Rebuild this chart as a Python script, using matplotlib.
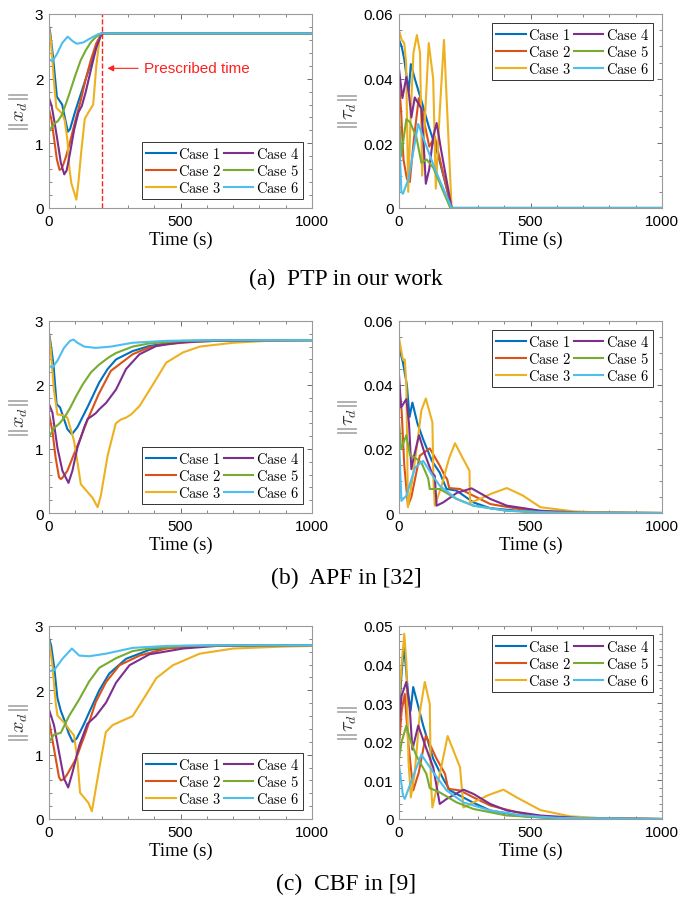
import matplotlib
matplotlib.use("Agg")
import matplotlib.pyplot as plt
from matplotlib.ticker import AutoMinorLocator

plt.rcParams["font.family"] = ["Liberation Sans", "DejaVu Sans"]
plt.rcParams["mathtext.fontset"] = "cm"

# ---------------------------------------------------------------- data
cases = ["Case 1", "Case 2", "Case 3", "Case 4", "Case 5", "Case 6"]
colors = ["#0072BD", "#D95319", "#EDB120", "#7E2F8E", "#77AC30", "#4DBEEE"]

# (a) PTP, ||x_d||
ptp_x_t = [
    [0, 5, 15, 30, 40, 50, 60, 72, 80, 100, 120, 140, 160, 180, 200, 1000],
    [0, 10, 20, 30, 40, 47, 55, 65, 80, 100, 120, 140, 160, 180, 200, 1000],
    [0, 8, 18, 28, 40, 50, 60, 70, 78, 85, 95, 104, 112, 122, 136, 150, 168, 180, 193, 200, 1000],
    [0, 10, 20, 30, 45, 58, 67, 80, 95, 112, 125, 140, 160, 180, 200, 1000],
    [0, 10, 20, 35, 50, 65, 80, 100, 120, 140, 160, 180, 200, 1000],
    [0, 13, 30, 50, 71, 90, 106, 130, 160, 188, 200, 1000],
]
ptp_x_v = [
    [2.81, 2.70, 2.35, 1.72, 1.66, 1.60, 1.40, 1.18, 1.22, 1.50, 1.75, 2.00, 2.25, 2.50, 2.70, 2.70],
    [1.53, 1.35, 1.05, 0.75, 0.59, 0.60, 0.68, 0.80, 1.02, 1.35, 1.65, 2.00, 2.30, 2.55, 2.70, 2.70],
    [2.79, 2.55, 2.00, 1.55, 1.50, 1.46, 1.35, 1.05, 0.60, 0.38, 0.25, 0.13, 0.40, 0.85, 1.38, 1.48, 1.60, 2.20, 2.65, 2.70, 2.70],
    [1.70, 1.58, 1.35, 1.10, 0.70, 0.52, 0.58, 0.85, 1.20, 1.48, 1.58, 1.80, 2.15, 2.48, 2.70, 2.70],
    [1.18, 1.25, 1.30, 1.35, 1.45, 1.62, 1.80, 2.05, 2.28, 2.44, 2.57, 2.65, 2.70, 2.70],
    [2.30, 2.27, 2.38, 2.55, 2.65, 2.58, 2.54, 2.56, 2.63, 2.69, 2.70, 2.70],
]

# (a) PTP, ||tau_d||
ptp_tau_t = [
    [0, 10, 20, 30, 37, 45, 60, 87, 112, 150, 200, 1000],
    [0, 8, 17, 30, 41, 55, 75, 89, 100, 115, 136, 150, 170, 200, 1000],
    [0, 10, 20, 27, 35, 45, 55, 68, 80, 88, 100, 113, 130, 140, 155, 171, 200, 1000],
    [0, 13, 28, 38, 47, 60, 85, 95, 102, 115, 130, 143, 160, 200, 1000],
    [0, 8, 28, 42, 66, 85, 105, 130, 195, 1000],
    [0, 9, 15, 36, 73, 100, 137, 200, 1000],
]
ptp_tau_v = [
    [0.052, 0.050, 0.046, 0.040, 0.036, 0.0445, 0.040, 0.0327, 0.0255, 0.016, 0.0, 0.0],
    [0.039, 0.030, 0.015, 0.009, 0.008, 0.020, 0.034, 0.030, 0.025, 0.019, 0.022, 0.017, 0.010, 0.0, 0.0],
    [0.055, 0.052, 0.051, 0.045, 0.005, 0.030, 0.048, 0.0535, 0.048, 0.010, 0.030, 0.051, 0.040, 0.006, 0.030, 0.052, 0.0, 0.0],
    [0.043, 0.034, 0.0405, 0.035, 0.028, 0.0342, 0.0307, 0.018, 0.0075, 0.012, 0.022, 0.0263, 0.018, 0.0, 0.0],
    [0.029, 0.016, 0.0275, 0.0265, 0.022, 0.014, 0.015, 0.0125, 0.0, 0.0],
    [0.024, 0.005, 0.0044, 0.009, 0.026, 0.020, 0.012, 0.0, 0.0],
]

# (b) APF, ||x_d||
apf_x_t = [
    [0, 6, 17, 29, 42, 51, 70, 87, 108, 146, 191, 223, 255, 318, 382, 446, 573, 700, 1000],
    [0, 13, 25, 38, 45, 51, 70, 95, 121, 146, 188, 235, 318, 382, 446, 573, 700, 1000],
    [0, 6, 19, 32, 51, 70, 95, 108, 121, 146, 165, 185, 197, 223, 254, 273, 293, 312, 344, 388, 446, 510, 573, 701, 828, 1000],
    [0, 13, 32, 51, 74, 89, 108, 134, 147, 165, 178, 191, 217, 255, 293, 344, 408, 510, 637, 1000],
    [0, 20, 40, 60, 80, 105, 130, 160, 191, 230, 255, 318, 382, 510, 700, 1000],
    [0, 13, 32, 57, 80, 93, 108, 134, 178, 235, 318, 446, 600, 1000],
]
apf_x_v = [
    [2.81, 2.66, 2.32, 1.70, 1.65, 1.54, 1.31, 1.23, 1.34, 1.65, 2.04, 2.25, 2.40, 2.53, 2.61, 2.65, 2.69, 2.70, 2.70],
    [1.54, 1.28, 0.87, 0.56, 0.53, 0.55, 0.66, 0.92, 1.18, 1.45, 1.85, 2.22, 2.48, 2.59, 2.64, 2.68, 2.70, 2.70],
    [2.80, 2.58, 1.91, 1.54, 1.53, 1.49, 1.13, 0.80, 0.45, 0.33, 0.24, 0.09, 0.27, 0.90, 1.40, 1.46, 1.49, 1.54, 1.67, 1.96, 2.35, 2.51, 2.60, 2.66, 2.69, 2.70],
    [1.70, 1.57, 1.02, 0.66, 0.47, 0.66, 1.02, 1.34, 1.47, 1.52, 1.56, 1.62, 1.72, 1.93, 2.25, 2.48, 2.61, 2.67, 2.69, 2.70],
    [1.19, 1.33, 1.40, 1.50, 1.64, 1.84, 2.02, 2.20, 2.32, 2.44, 2.50, 2.60, 2.65, 2.69, 2.70, 2.70],
    [2.30, 2.27, 2.38, 2.58, 2.69, 2.71, 2.66, 2.60, 2.58, 2.60, 2.66, 2.69, 2.70, 2.70],
]

# (b) APF, ||tau_d||
apf_tau_t = [
    [0, 15, 30, 40, 51, 70, 92, 125, 155, 181, 219, 283, 347, 474, 600, 1000],
    [0, 10, 20, 34, 47, 79, 117, 155, 175, 183, 191, 232, 283, 347, 474, 600, 1000],
    [0, 10, 15, 22, 28, 34, 50, 70, 85, 102, 127, 131, 136, 160, 190, 213, 240, 268, 270, 308, 350, 410, 470, 538, 665, 800, 1000],
    [0, 8, 28, 38, 47, 55, 76, 100, 125, 136, 143, 168, 220, 276, 347, 410, 538, 700, 1000],
    [0, 8, 28, 42, 60, 85, 111, 117, 155, 219, 283, 410, 600, 1000],
    [0, 9, 28, 61, 92, 125, 155, 219, 283, 410, 600, 1000],
]
apf_tau_v = [
    [0.052, 0.047, 0.040, 0.030, 0.0345, 0.028, 0.023, 0.0163, 0.0126, 0.0075, 0.007, 0.0033, 0.0015, 0.0005, 0.0001, 0.0],
    [0.039, 0.032, 0.015, 0.0023, 0.005, 0.0179, 0.0202, 0.0148, 0.0115, 0.0106, 0.0078, 0.0075, 0.0054, 0.0028, 0.001, 0.0002, 0.0],
    [0.0548, 0.050, 0.0479, 0.048, 0.040, 0.0018, 0.010, 0.022, 0.032, 0.0358, 0.0283, 0.010, 0.0023, 0.008, 0.017, 0.0218, 0.0175, 0.0132, 0.0033, 0.0044, 0.006, 0.0078, 0.0055, 0.0018, 0.0005, 0.0001, 0.0],
    [0.043, 0.033, 0.0356, 0.028, 0.0137, 0.017, 0.0243, 0.018, 0.0125, 0.0116, 0.0023, 0.0033, 0.0063, 0.0077, 0.0044, 0.0023, 0.0007, 0.0001, 0.0],
    [0.0288, 0.020, 0.0243, 0.018, 0.0173, 0.0158, 0.0108, 0.0075, 0.0075, 0.0044, 0.0023, 0.0007, 0.0001, 0.0],
    [0.0236, 0.0038, 0.0054, 0.0142, 0.0163, 0.012, 0.0085, 0.0044, 0.0023, 0.0007, 0.0001, 0.0],
]

# (c) CBF, ||x_d||
cbf_x_t = [
    [0, 8, 20, 32, 45, 60, 75, 90, 105, 130, 153, 191, 229, 293, 382, 510, 700, 1000],
    [0, 19, 38, 45, 57, 70, 102, 140, 178, 217, 268, 344, 446, 573, 700, 1000],
    [0, 13, 25, 32, 57, 83, 95, 108, 118, 134, 150, 163, 191, 216, 242, 280, 318, 369, 408, 471, 573, 701, 892, 1000],
    [0, 19, 38, 57, 73, 89, 115, 146, 178, 217, 255, 306, 382, 510, 637, 1000],
    [0, 19, 45, 76, 115, 153, 191, 255, 318, 382, 510, 700, 1000],
    [0, 19, 51, 87, 115, 153, 217, 318, 446, 600, 1000],
]
cbf_x_v = [
    [2.81, 2.70, 2.35, 1.88, 1.68, 1.52, 1.33, 1.20, 1.25, 1.45, 1.66, 2.00, 2.26, 2.49, 2.63, 2.68, 2.70, 2.70],
    [1.53, 1.09, 0.65, 0.60, 0.62, 0.70, 0.93, 1.35, 1.82, 2.13, 2.39, 2.54, 2.65, 2.69, 2.70, 2.70],
    [2.78, 2.39, 1.82, 1.61, 1.50, 1.36, 1.30, 0.93, 0.41, 0.33, 0.25, 0.12, 0.78, 1.35, 1.46, 1.53, 1.60, 1.93, 2.19, 2.39, 2.57, 2.65, 2.68, 2.69],
    [1.70, 1.46, 1.04, 0.63, 0.49, 0.72, 1.14, 1.48, 1.60, 1.81, 2.12, 2.39, 2.56, 2.65, 2.69, 2.70],
    [1.20, 1.31, 1.34, 1.60, 1.86, 2.14, 2.35, 2.50, 2.61, 2.65, 2.69, 2.70, 2.70],
    [2.30, 2.31, 2.49, 2.65, 2.54, 2.53, 2.57, 2.66, 2.69, 2.70, 2.70],
]

# (c) CBF, ||tau_d||
cbf_tau_t = [
    [0, 10, 19, 34, 44, 54, 70, 92, 130, 168, 194, 283, 347, 474, 600, 1000],
    [0, 10, 22, 35, 54, 75, 102, 143, 175, 187, 232, 283, 347, 474, 600, 1000],
    [0, 10, 20, 28, 36, 45, 60, 80, 98, 117, 121, 127, 150, 185, 232, 245, 283, 340, 397, 450, 538, 650, 800, 1000],
    [0, 10, 28, 41, 51, 73, 100, 130, 155, 181, 245, 283, 347, 410, 538, 700, 1000],
    [0, 10, 28, 45, 66, 104, 117, 155, 219, 283, 410, 600, 1000],
    [0, 15, 22, 41, 85, 130, 181, 245, 347, 474, 600, 1000],
]
cbf_tau_v = [
    [0.0273, 0.038, 0.045, 0.033, 0.028, 0.0342, 0.030, 0.0242, 0.0156, 0.0104, 0.0074, 0.0042, 0.0022, 0.0007, 0.0002, 0.0],
    [0.019, 0.028, 0.0324, 0.020, 0.0074, 0.012, 0.0216, 0.0156, 0.0117, 0.0078, 0.0074, 0.0056, 0.0035, 0.0013, 0.0003, 0.0],
    [0.0303, 0.040, 0.048, 0.0407, 0.015, 0.0056, 0.012, 0.028, 0.0355, 0.0298, 0.010, 0.003, 0.010, 0.0215, 0.0134, 0.003, 0.0043, 0.0062, 0.0076, 0.0055, 0.0023, 0.0007, 0.0001, 0.0],
    [0.0247, 0.032, 0.0355, 0.0285, 0.018, 0.0242, 0.019, 0.0134, 0.0039, 0.0052, 0.0076, 0.0065, 0.0039, 0.0022, 0.0009, 0.0002, 0.0],
    [0.0156, 0.020, 0.0242, 0.020, 0.0164, 0.0117, 0.008, 0.0069, 0.0043, 0.0026, 0.0009, 0.0002, 0.0],
    [0.014, 0.0061, 0.0052, 0.0087, 0.0167, 0.0121, 0.0074, 0.0043, 0.0022, 0.0009, 0.0003, 0.0],
]

captions = ["(a)  PTP in our work", "(b)  APF in [32]", "(c)  CBF in [9]"]
prescribed_time = 200

# ---------------------------------------------------------------- figure
W, H = 693, 903
fig = plt.figure(figsize=(W / 100, H / 100), dpi=100)


def px_rect(x0, x1, top, bottom):
    return [x0 / W, 1 - bottom / H, (x1 - x0) / W, (bottom - top) / H]


SERIF = ["Liberation Serif", "DejaVu Serif"]
FRAME = "#9a9a9a"


def panel(ax, ts, vs, ylim, yticks, ylabel, yminor, legend_loc):
    for t, v, c, lab in zip(ts, vs, colors, cases):
        ax.plot(t, v, color=c, lw=1.5, label=r"$\mathrm{%s}$" % lab.replace(" ", r"\ "))
    ax.set_xlim(0, 1000)
    ax.set_ylim(*ylim)
    ax.set_xticks([0, 500, 1000])
    ax.set_yticks(yticks)
    ax.xaxis.set_minor_locator(AutoMinorLocator(5))
    ax.yaxis.set_minor_locator(AutoMinorLocator(yminor))
    ax.tick_params(which="both", direction="in", top=True, right=True,
                   color="#555555", labelsize=11, pad=4)
    ax.tick_params(which="major", length=3.5, width=0.6)
    ax.tick_params(which="minor", length=2, width=0.5)
    for s in ax.spines.values():
        s.set_color(FRAME)
        s.set_linewidth(0.8)
    ax.set_xlabel("Time (s)", fontsize=13.5, family=SERIF, labelpad=2)
    ax.set_ylabel(ylabel, fontsize=14.5, color="#333333", labelpad=3)
    leg = ax.legend(loc=legend_loc, ncol=2, prop={"size": 10.5},
                    handlelength=2.0, handletextpad=0.15, columnspacing=0.25,
                    labelspacing=0.12, borderpad=0.3, borderaxespad=0.6,
                    fancybox=False, framealpha=1)
    leg.get_frame().set_edgecolor("#333333")
    leg.get_frame().set_linewidth(0.7)
    return ax


rows = [(15, 209), (322, 514), (627, 820)]
x_data = [(ptp_x_t, ptp_x_v), (apf_x_t, apf_x_v), (cbf_x_t, cbf_x_v)]
tau_data = [(ptp_tau_t, ptp_tau_v), (apf_tau_t, apf_tau_v), (cbf_tau_t, cbf_tau_v)]
tau_ylims = [(0, 0.06), (0, 0.06), (0, 0.05)]
tau_ticks = [[0, 0.02, 0.04, 0.06], [0, 0.02, 0.04, 0.06],
             [0, 0.01, 0.02, 0.03, 0.04, 0.05]]
tau_minor = [4, 4, 5]
caption_y = [279, 578, 884]

for i, (top, bottom) in enumerate(rows):
    axl = fig.add_axes(px_rect(49, 312, top, bottom))
    panel(axl, x_data[i][0], x_data[i][1], (0, 3), [0, 1, 2, 3],
          r"$\|x_d\|$", 5, "lower right")
    axr = fig.add_axes(px_rect(399, 662, top, bottom))
    panel(axr, tau_data[i][0], tau_data[i][1], tau_ylims[i], tau_ticks[i],
          r"$\|\tau_d\|$", tau_minor[i], "upper right")
    axr.set_yticklabels([f"{v:g}" for v in tau_ticks[i]])
    fig.text(346 / W, 1 - caption_y[i] / H, captions[i], ha="center",
             va="center", fontsize=17, family=SERIF)

    if i == 0:
        axl.axvline(prescribed_time, color="#ff2020", ls="--", lw=1.0)
        axl.annotate("Prescribed time", xy=(222, 2.16), xytext=(360, 2.16),
                     color="#ff2020", fontsize=11, va="center", ha="left",
                     arrowprops=dict(arrowstyle="-|>", color="#ff2020",
                                     lw=0.8, mutation_scale=9,
                                     shrinkA=2, shrinkB=0))

fig.savefig("out.png", dpi=100)
